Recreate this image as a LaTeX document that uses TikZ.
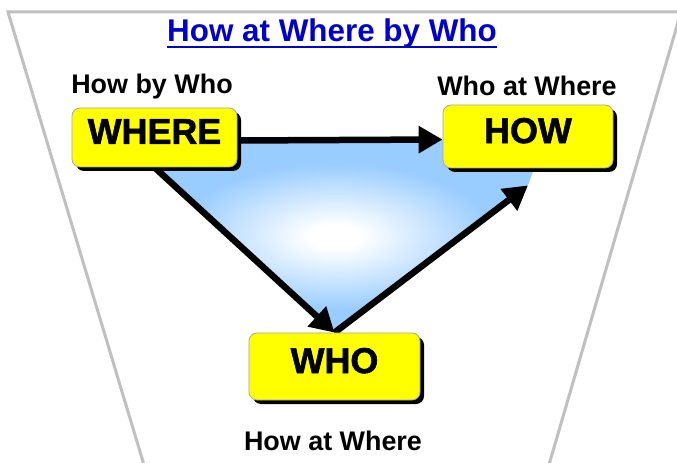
\documentclass[tikz,border=0pt]{standalone}
\usepackage{fontspec}
\setmainfont{Liberation Sans}
\newfontfamily\heavyfont[FakeBold=1.6]{Liberation Sans}
\usetikzlibrary{arrows.meta,shadows}
\definecolor{boxyellow}{HTML}{FFFF00}
\definecolor{framegray}{HTML}{C0C0C0}
\definecolor{titleblue}{HTML}{0000CC}
\definecolor{lightblue}{HTML}{99CCFF}
\pgfdeclareradialshading{trishade}{\pgfpoint{0bp}{0bp}}{color(0bp)=(white); color(3bp)=(white); color(19bp)=(lightblue); color(50bp)=(lightblue)}
\pgfdeclarelayer{bg}
\pgfsetlayers{bg,main}
\begin{document}
\begin{tikzpicture}[x=1bp,y=-1bp,
  box/.style={draw=gray!70, fill=boxyellow, rounded corners=8bp, line width=0.8bp,
    font=\fontsize{36}{36}\heavyfont\bfseries, text depth=12bp,
    drop shadow={shadow xshift=4bp, shadow yshift=-4bp, fill=black, opacity=1}},
  lbl/.style={font=\fontsize{27}{27}\selectfont\bfseries, inner sep=0pt, anchor=base},
  arr/.style={line width=6.5bp, black, -{Triangle[length=24bp,width=26bp]}}]
\useasboundingbox (0,0) rectangle (677,463);

\node[box, minimum width=165bp, minimum height=59bp] (where) at (154.5,137.5) {WHERE};
\node[box, minimum width=170bp, minimum height=63bp] (how) at (528,136.5) {HOW};
\node[box, minimum width=171bp, minimum height=67bp] (who) at (334.5,366.5) {WHO};

\node[lbl] (lwhere) at (152,94) {How by Who};
\node[lbl] (lhow) at (527,96) {Who at Where};
\node[lbl] (lwho) at (333,450) {How at Where};
\node[font=\fontsize{31.5}{31.5}\selectfont\bfseries, text=titleblue, inner sep=0pt, anchor=base] (title) at (332,42) {How at Where by Who};
\draw[titleblue, line width=2bp] ([yshift=-5bp]title.base west) -- ([yshift=-5bp]title.base east);

\begin{pgfonlayer}{bg}
  \fill[white] (0,0) rectangle (677,463);
  \draw[framegray, line width=3bp] (147,475) -- (8,12) -- (681,12) -- (546,475);
  \shade[shading=trishade] (125,140) -- (545,140) -- (528,185) -- (334.5,333) -- cycle;
  \draw[arr] ([yshift=-3bp]where.east) -- ([yshift=-3bp]how.west);
  \draw[arr] (where.south) -- (who.north);
  \draw[arr] (who.north) -- ([yshift=-17bp]how.south);
\end{pgfonlayer}
\end{tikzpicture}
\end{document}
